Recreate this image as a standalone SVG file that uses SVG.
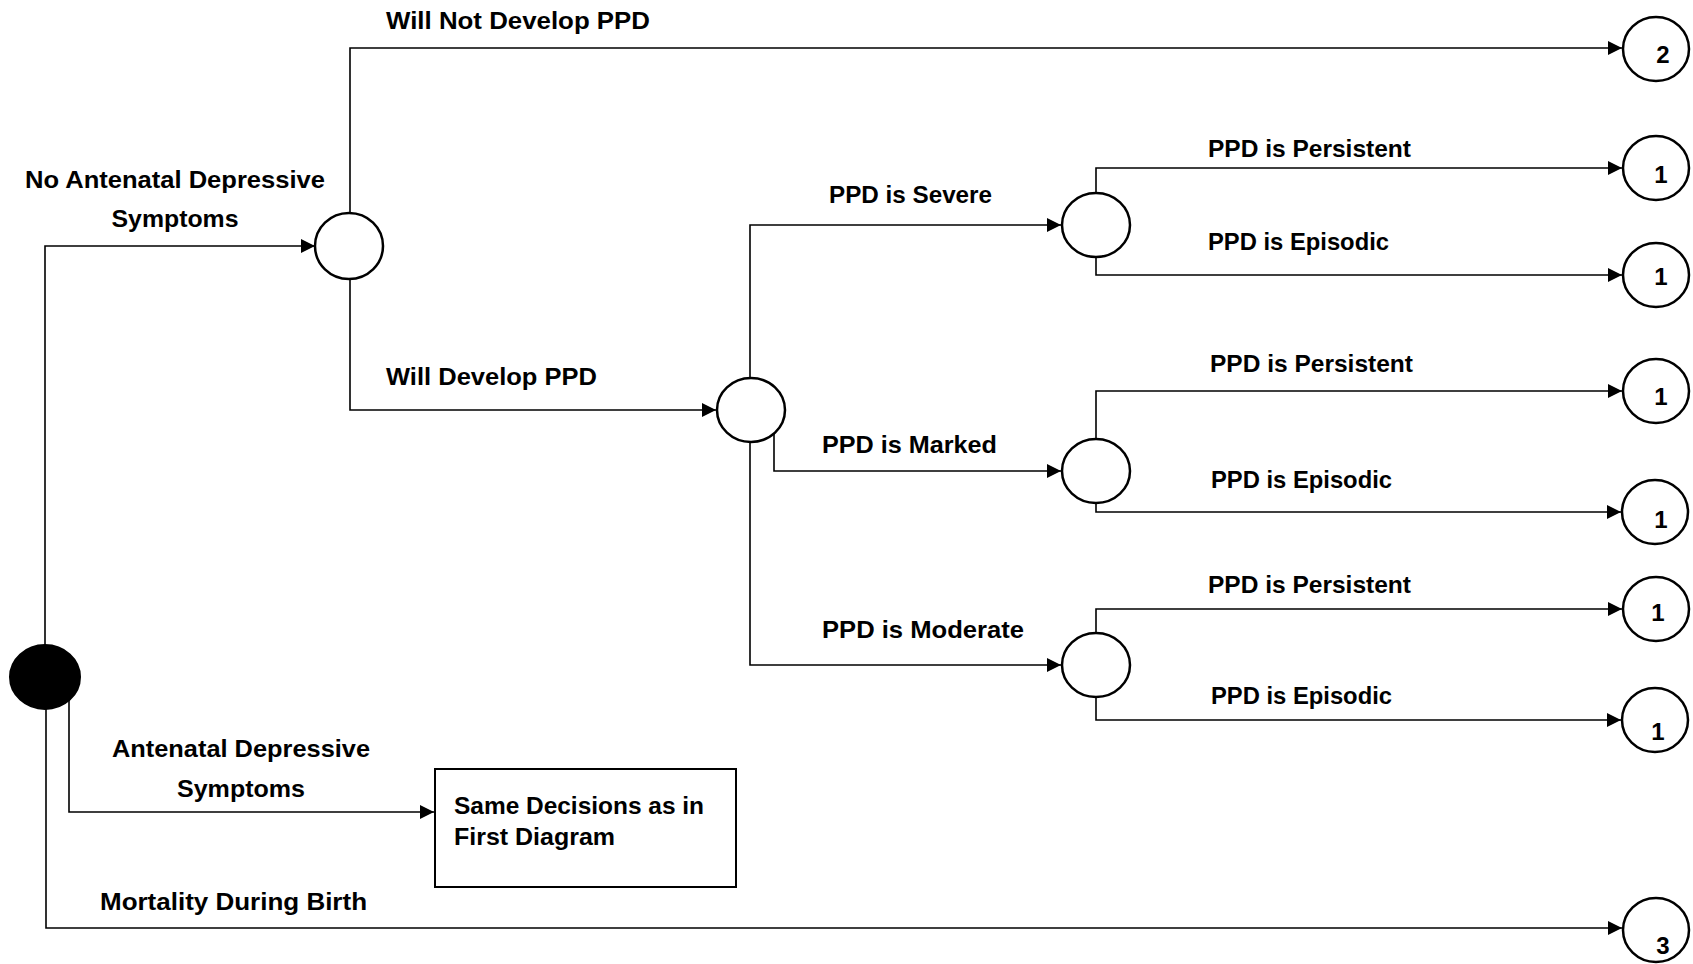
<svg xmlns="http://www.w3.org/2000/svg" width="1693" height="964" viewBox="0 0 1693 964">
<style>
.c{fill:#fff;stroke:#000;stroke-width:2.5}
.conn polyline{fill:none;stroke:#000;stroke-width:1.6;marker-end:url(#ah)}
text{font-family:"Liberation Sans",Arial,sans-serif;font-weight:bold;font-size:24.5px;fill:#000}
.num{text-anchor:middle;font-size:24px}
.mid{text-anchor:middle}
</style>
<defs>
<marker id="ah" markerUnits="userSpaceOnUse" markerWidth="15" markerHeight="14" refX="14" refY="7" orient="auto">
<path d="M0,0 L14,7 L0,14 z" fill="#000"/>
</marker>
</defs>
<g id="connectors" class="conn">
<polyline points="45,645 45,246 315,246"/>
<polyline points="350,213 350,48 1622,48"/>
<polyline points="350,279 350,410 716,410"/>
<polyline points="750,378 750,225 1061,225"/>
<polyline points="774,434 774,471 1061,471"/>
<polyline points="750,442 750,665 1061,665"/>
<polyline points="1096,193 1096,168 1622,168"/>
<polyline points="1096,256 1096,275 1622,275"/>
<polyline points="1096,439 1096,391 1622,391"/>
<polyline points="1096,503 1096,512 1621,512"/>
<polyline points="1096,633 1096,609 1622,609"/>
<polyline points="1096,697 1096,720 1621,720"/>
<polyline points="69,700 69,812 434,812"/>
<polyline points="46,709 46,928 1622,928"/>
</g>
<g id="root"><ellipse cx="45" cy="677" rx="35" ry="32" fill="#000" stroke="#000" stroke-width="2"/></g>
<g id="chance-no-antenatal"><ellipse class="c" cx="349" cy="246" rx="34" ry="33"/></g>
<g id="chance-develop"><ellipse class="c" cx="751" cy="410" rx="34" ry="32"/></g>
<g id="chance-severe"><ellipse class="c" cx="1096" cy="225" rx="34" ry="32"/></g>
<g id="chance-marked"><ellipse class="c" cx="1096" cy="471" rx="34" ry="32"/></g>
<g id="chance-moderate"><ellipse class="c" cx="1096" cy="665" rx="34" ry="32"/></g>
<g id="box-same"><rect x="435" y="769" width="301" height="118" fill="#fff" stroke="#000" stroke-width="2"/>
<text x="454" y="814" textLength="250" lengthAdjust="spacingAndGlyphs">Same Decisions as in</text>
<text x="454" y="845" textLength="161" lengthAdjust="spacingAndGlyphs">First Diagram</text></g>
<g id="term-2"><ellipse class="c" cx="1656" cy="49" rx="33" ry="32"/><text class="num" x="1663" y="63">2</text></g>
<g id="term-1a"><ellipse class="c" cx="1656" cy="168" rx="33" ry="32"/><text class="num" x="1661" y="183">1</text></g>
<g id="term-1b"><ellipse class="c" cx="1656" cy="275" rx="33" ry="32"/><text class="num" x="1661" y="285">1</text></g>
<g id="term-1c"><ellipse class="c" cx="1656" cy="391" rx="33" ry="32"/><text class="num" x="1661" y="405">1</text></g>
<g id="term-1d"><ellipse class="c" cx="1655" cy="512" rx="33" ry="32"/><text class="num" x="1661" y="528">1</text></g>
<g id="term-1e"><ellipse class="c" cx="1656" cy="609" rx="33" ry="32"/><text class="num" x="1658" y="621">1</text></g>
<g id="term-1f"><ellipse class="c" cx="1655" cy="720" rx="33" ry="32"/><text class="num" x="1658" y="740">1</text></g>
<g id="term-3"><ellipse class="c" cx="1656" cy="930" rx="33" ry="32"/><text class="num" x="1663" y="954">3</text></g>
<g id="labels">
<text x="386" y="29" textLength="264" lengthAdjust="spacingAndGlyphs">Will Not Develop PPD</text>
<text class="mid" x="175" y="188" textLength="300" lengthAdjust="spacingAndGlyphs">No Antenatal Depressive</text>
<text class="mid" x="175" y="227" textLength="127" lengthAdjust="spacingAndGlyphs">Symptoms</text>
<text x="386" y="385" textLength="211" lengthAdjust="spacingAndGlyphs">Will Develop PPD</text>
<text x="829" y="203" textLength="163" lengthAdjust="spacingAndGlyphs">PPD is Severe</text>
<text x="1208" y="157" textLength="203" lengthAdjust="spacingAndGlyphs">PPD is Persistent</text>
<text x="1208" y="250" textLength="181" lengthAdjust="spacingAndGlyphs">PPD is Episodic</text>
<text x="822" y="453" textLength="175" lengthAdjust="spacingAndGlyphs">PPD is Marked</text>
<text x="1210" y="372" textLength="203" lengthAdjust="spacingAndGlyphs">PPD is Persistent</text>
<text x="1211" y="488" textLength="181" lengthAdjust="spacingAndGlyphs">PPD is Episodic</text>
<text x="822" y="638" textLength="202" lengthAdjust="spacingAndGlyphs">PPD is Moderate</text>
<text x="1208" y="593" textLength="203" lengthAdjust="spacingAndGlyphs">PPD is Persistent</text>
<text x="1211" y="704" textLength="181" lengthAdjust="spacingAndGlyphs">PPD is Episodic</text>
<text class="mid" x="241" y="757" textLength="258" lengthAdjust="spacingAndGlyphs">Antenatal Depressive</text>
<text class="mid" x="241" y="797" textLength="128" lengthAdjust="spacingAndGlyphs">Symptoms</text>
<text x="100" y="910" textLength="267" lengthAdjust="spacingAndGlyphs">Mortality During Birth</text>
</g>
</svg>
